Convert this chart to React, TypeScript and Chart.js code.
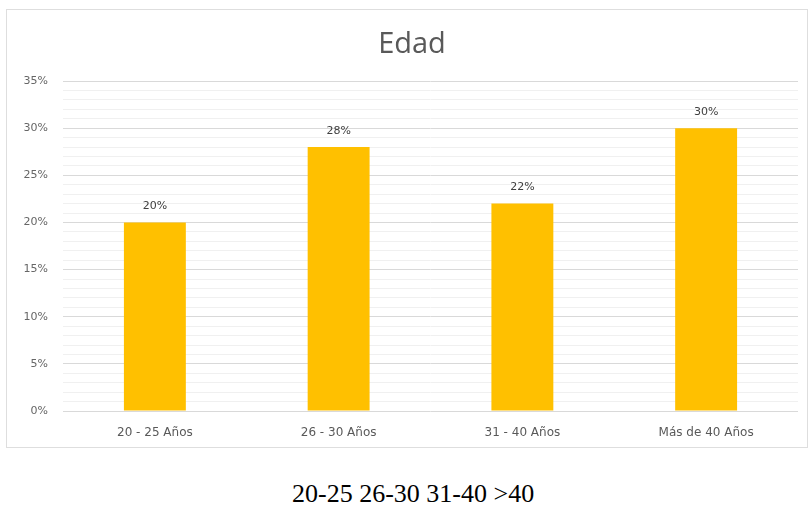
import React, { useEffect, useRef } from 'react';
import { Chart, registerables } from 'chart.js';

Chart.register(...registerables);

const categories = ['20 - 25 Años', '26 - 30 Años', '31 - 40 Años', 'Más de 40 Años'];
const values = [20, 28, 22, 30];
const yMin = 0;
const yMax = 35;
const yMajorStep = 5;
const chartTitle = 'Edad';
const caption = '20-25 26-30 31-40 >40';

const dataLabelPlugin = {
  id: 'dataLabels',
  afterDatasetsDraw(chart: any) {
    const ctx = chart.ctx;
    const meta = chart.getDatasetMeta(0);
    ctx.save();
    ctx.font = '11px "DejaVu Sans"';
    ctx.fillStyle = '#404040';
    ctx.textAlign = 'center';
    ctx.textBaseline = 'middle';
    meta.data.forEach((el: any, i: number) => {
      ctx.fillText(values[i] + '%', el.x, el.y - 16);
    });
    ctx.restore();
  },
};

export default function App() {
  const ref = useRef<HTMLCanvasElement | null>(null);

  useEffect(() => {
    if (!ref.current) return;
    const chart = new Chart(ref.current, {
      type: 'bar',
      data: {
        labels: categories,
        datasets: [
          {
            data: values,
            backgroundColor: '#FFC000',
            borderWidth: 0,
            barPercentage: 0.337,
            categoryPercentage: 1,
          },
        ],
      },
      options: {
        responsive: false,
        animation: false,
        layout: { padding: { left: 6, right: 13, top: 81, bottom: 19 } },
        plugins: {
          legend: { display: false },
          tooltip: { enabled: false },
          title: { display: false },
        },
        scales: {
          x: {
            grid: { display: false, drawTicks: false },
            border: { display: false },
            ticks: {
              color: '#595959',
              font: { family: '"DejaVu Sans"', size: 12 },
              padding: 15,
            },
            afterFit: (s: any) => {
              s.height = 30;
            },
          },
          y: {
            min: yMin,
            max: yMax,
            border: { display: false },
            grid: {
              drawTicks: false,
              color: (c: any) => (c.tick && c.tick.value % yMajorStep === 0 ? '#d9d9d9' : '#f0f0f0'),
            },
            ticks: {
              stepSize: 1,
              autoSkip: false,
              color: '#666666',
              font: { family: '"DejaVu Sans"', size: 11 },
              padding: 15,
              callback: (v: any) => (Number(v) % yMajorStep === 0 ? v + '%' : ''),
            },
            afterFit: (s: any) => {
              s.width = 57;
            },
          },
        },
      },
      plugins: [dataLabelPlugin],
    });
    return () => chart.destroy();
  }, []);

  return (
    <div style={{ position: 'absolute', left: 0, top: 0, width: 811, height: 507, background: '#fff', overflow: 'hidden' }}>
      <div
        style={{
          position: 'absolute',
          left: 6,
          top: 9,
          width: 800,
          height: 437,
          border: '1px solid #dedede',
        }}
      />
      <canvas ref={ref} width={811} height={460} style={{ position: 'absolute', left: 0, top: 0, display: 'block' }} />
      <div
        style={{
          position: 'absolute',
          left: 312,
          width: 200,
          top: 27,
          textAlign: 'center',
          fontFamily: '"Open Sans", sans-serif',
          fontSize: 29,
          lineHeight: '29px',
          color: '#595959',
          whiteSpace: 'nowrap',
        }}
      >
        {chartTitle}
      </div>
      <div
        style={{
          position: 'absolute',
          left: 292,
          top: 481,
          fontFamily: '"Liberation Serif", serif',
          fontSize: 26,
          lineHeight: '26px',
          color: '#000',
          whiteSpace: 'nowrap',
        }}
      >
        {caption}
      </div>
    </div>
  );
}
